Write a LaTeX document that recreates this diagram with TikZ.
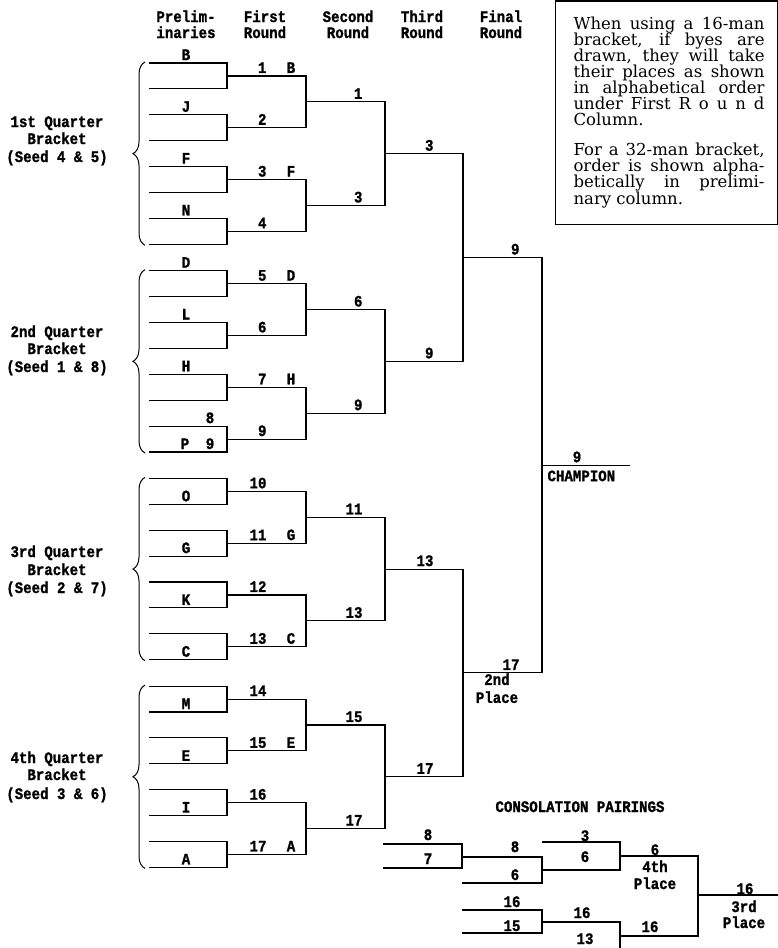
\documentclass[tikz,border=0pt]{standalone}
\usepackage{fontspec}
\usetikzlibrary{decorations.pathreplacing,calc}
\newfontfamily\tw{Liberation Mono Bold}[FakeStretch=0.88,FakeBold=1.2]
\newfontfamily\bx{DejaVu Serif}
\begin{document}
\begin{tikzpicture}[x=1pt,y=-1pt,line width=1.1pt,
  tt/.style={font=\tw\fontsize{16}{16}\selectfont, inner sep=0pt},
  lbl/.style={tt, anchor=base},
  lbr/.style={tt, anchor=base east},
  lbw/.style={tt, anchor=base west},
  bxt/.style={font=\bx\fontsize{16.5}{16}\selectfont, inner sep=0pt, anchor=base west},
  brc/.style={decorate, decoration={brace, amplitude=12pt}, line width=1pt}]
\useasboundingbox (0,0) rectangle (778,948);

% column headers
\node[lbl] (h1a) at (186,22) {Prelim-};
\node[lbl] (h1b) at (186,38) {inaries};
\node[lbl] (h2a) at (265,22) {First};
\node[lbl] (h2b) at (265,38) {Round};
\node[lbl] (h3a) at (348,22) {Second};
\node[lbl] (h3b) at (348,38) {Round};
\node[lbl] (h4a) at (422,22) {Third};
\node[lbl] (h4b) at (422,38) {Round};
\node[lbl] (h5a) at (501,22) {Final};
\node[lbl] (h5b) at (501,38) {Round};

% quarter brackets
\foreach \q in {0,1,2,3}{
  \pgfmathsetmacro\Q{63+207.7*\q}
  \foreach \k in {0,...,7}{
    \coordinate (pl-\q-\k) at (149,\Q+25.9*\k);
    \coordinate (pr-\q-\k) at (227,\Q+25.9*\k);
  }
  \foreach \m in {0,...,3}{
    \coordinate (a-\q-\m) at (227,\Q+51.8*\m+12.95);
    \coordinate (b-\q-\m) at (306,\Q+51.8*\m+12.95);
  }
  \foreach \m in {0,1}{
    \coordinate (c-\q-\m) at (306,\Q+103.6*\m+38.85);
    \coordinate (d-\q-\m) at (385,\Q+103.6*\m+38.85);
  }
  \coordinate (e-\q) at (385,\Q+90.65);
  \coordinate (f-\q) at (463,\Q+90.65);
  \foreach \u/\v in {0/1,2/3,4/5,6/7}
    \draw (pl-\q-\u) -- (pr-\q-\u) -- (pr-\q-\v) -- (pl-\q-\v);
  \foreach \u/\v in {0/1,2/3}
    \draw (a-\q-\u) -- (b-\q-\u) -- (b-\q-\v) -- (a-\q-\v);
  \draw (c-\q-0) -- (d-\q-0) -- (d-\q-1) -- (c-\q-1);
  \draw[brc] ($(pl-\q-7)+(-4,1)$) coordinate (bb-\q) -- ($(pl-\q-0)+(-4,-1)$) coordinate (bt-\q);
}
\draw (e-0) -- (f-0) -- (f-1) -- (e-1);
\draw (e-2) -- (f-2) -- (f-3) -- (e-3);
\coordinate (g-0) at ($(f-0)!0.5!(f-1)$);
\coordinate (g-1) at ($(f-2)!0.5!(f-3)$);
\coordinate (hh-0) at ($(g-0)+(79,0)$);
\coordinate (hh-1) at ($(g-1)+(79,0)$);
\draw (g-0) -- (hh-0) -- (hh-1) -- (g-1);
\coordinate (ci) at ($(hh-0)!0.5!(hh-1)$);
\coordinate (cj) at ($(ci)+(88,0)$);
\draw (ci) -- (cj);

% quarter labels
\foreach \t/\y [count=\i] in {1st Quarter/127, Bracket/144, (Seed 4 \& 5)/162,
  2nd Quarter/337, Bracket/354, (Seed 1 \& 8)/372,
  3rd Quarter/557, Bracket/575, (Seed 2 \& 7)/593,
  4th Quarter/763, Bracket/780, (Seed 3 \& 6)/799}
  \node[lbl] (ql-\i) at (57,\y) {\t};

% preliminary labels
\foreach \q/\k/\t/\x [count=\i] in {0/0/B/186, 0/2/J/186, 0/4/F/186, 0/6/N/186,
  1/0/D/186, 1/2/L/186, 1/4/H/186, 1/6/8/210, 1/7/P/185, 1/7/9/210,
  2/1/O/186, 2/3/G/186, 2/5/K/186, 2/7/C/186,
  3/1/M/186, 3/3/E/186, 3/5/I/186, 3/7/A/186}
  \node[lbl] (pt-\i) at ($(pl-\q-\k)+(\x-149,-3)$) {\t};

% first round labels
\foreach \q/\m/\t [count=\i] in {0/0/1,0/1/2,0/2/3,0/3/4,1/0/5,1/1/6,1/2/7,1/3/9,
  2/0/10,2/1/11,2/2/12,2/3/13,3/0/14,3/1/15,3/2/16,3/3/17}
  \node[lbr] (rn-\i) at ($(a-\q-\m)+(40,-3)$) {\t};
\foreach \q/\m/\t [count=\i] in {0/0/B,0/2/F,1/0/D,1/2/H,2/1/G,2/3/C,3/1/E,3/3/A}
  \node[lbl] (rl-\i) at ($(a-\q-\m)+(64,-3)$) {\t};

% second round labels
\foreach \q/\m/\t [count=\i] in {0/0/1,0/1/3,1/0/6,1/1/9,2/0/11,2/1/13,3/0/15,3/1/17}
  \node[lbr] (sn-\i) at ($(c-\q-\m)+(57,-3)$) {\t};

% third round labels
\foreach \q/\t in {0/3,1/9,2/13,3/17}
  \node[lbr] (tn-\q) at ($(e-\q)+(49,-3)$) {\t};

% final round
\node[lbr] (fa) at ($(g-0)+(57,-3)$) {9};
\node[lbr] (fb) at ($(g-1)+(57,-3)$) {17};
\node[lbl] (sp1) at ($(g-1)+(34,12)$) {2nd};
\node[lbl] (sp2) at ($(g-1)+(34,30)$) {Place};
\node[lbl] (ch9) at ($(ci)+(35,-3)$) {9};
\node[lbw] (chn) at ($(ci)+(5,16)$) {CHAMPION};

% consolation pairings
\node[lbl] (cons) at (580,812) {CONSOLATION PAIRINGS};
\coordinate (k1a) at (383,844); \coordinate (k1b) at (462,844);
\coordinate (k2a) at (383,868); \coordinate (k2b) at (462,868);
\coordinate (k3a) at (462,857); \coordinate (k3b) at (542,857);
\coordinate (k4a) at (462,883); \coordinate (k4b) at (542,883);
\coordinate (k5a) at (542,842); \coordinate (k5b) at (620,842);
\coordinate (k6a) at (542,870); \coordinate (k6b) at (620,870);
\coordinate (k7a) at (620,856); \coordinate (k7b) at (698,856);
\coordinate (k8a) at (462,910); \coordinate (k8b) at (542,910);
\coordinate (k9a) at (462,933); \coordinate (k9b) at (542,933);
\coordinate (k10a) at (542,922); \coordinate (k10b) at (620,922);
\coordinate (k11a) at (542,950); \coordinate (k11b) at (620,950);
\coordinate (k12a) at (620,936); \coordinate (k12b) at (698,936);
\coordinate (k13a) at (698,895); \coordinate (k13b) at (778,895);
\draw (k1a) -- (k1b) -- (k2b) -- (k2a);
\draw (k3a) -- (k3b) -- (k4b) -- (k4a);
\draw (k5a) -- (k5b) -- (k6b) -- (k6a);
\draw (k8a) -- (k8b) -- (k9b) -- (k9a);
\draw (k10a) -- (k10b) -- (k11b) -- (k11a);
\draw (k7a) -- (k7b) -- (k12b) -- (k12a);
\draw (k13a) -- (k13b);
\node[lbl] (kl1) at (428,840) {8};
\node[lbl] (kl2) at (428,864) {7};
\node[lbl] (kl3) at (515,852) {8};
\node[lbl] (kl4) at (515,880) {6};
\node[lbl] (kl5) at (585,841) {3};
\node[lbl] (kl6) at (585,862) {6};
\node[lbl] (kl7) at (655,855) {6};
\node[lbl] (kl7b) at (655,872) {4th};
\node[lbl] (kl7c) at (655,889) {Place};
\node[lbl] (kl8) at (512,907) {16};
\node[lbl] (kl9) at (512,931) {15};
\node[lbl] (kl10) at (582,918) {16};
\node[lbl] (kl11) at (585,944) {13};
\node[lbl] (kl12) at (650,932) {16};
\node[lbl] (kl13) at (745,894) {16};
\node[lbl] (kl13b) at (744,912) {3rd};
\node[lbl] (kl13c) at (744,928) {Place};

% note box
\draw[line width=0.8pt] (555,1) rectangle (777,224);
\draw[line width=2.4pt] (555,1.2) -- (778,1.2);
\foreach \t/\y [count=\i] in {When using a 16-man/29, {bracket, if byes are}/45,
  {drawn, they will take}/61, their places as shown/77, in alphabetical order/93,
  under First R o u n d/109, {For a 32-man bracket,}/155, order is shown alpha-/171,
  betically in prelimi-/187}
  \node[bxt] (nt-\i) at (573,\y) {\makebox[191pt][s]{\t}};
\node[bxt] (nt-10) at (573,125) {Column.};
\node[bxt] (nt-11) at (573,204) {nary column.};
\end{tikzpicture}
\end{document}
